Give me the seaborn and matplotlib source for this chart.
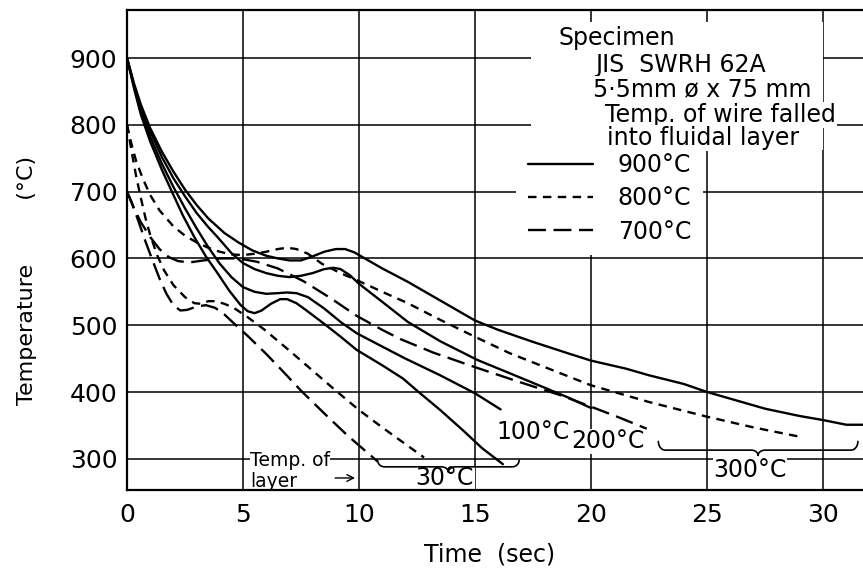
import numpy as np
import pandas as pd
import matplotlib
matplotlib.use("Agg")
import matplotlib.pyplot as plt
import seaborn as sns
from matplotlib.lines import Line2D
from matplotlib.patches import Rectangle

# ---------------- data ----------------
# Solid lines: wire dropped at 900 C ; layer temperature in name
t_s30 = [0, 0.3, 0.6, 1.0, 1.5, 2.0, 2.4, 2.9, 3.4, 3.9, 4.4, 4.9, 5.2, 5.5, 5.8, 6.2, 6.6, 6.9,
         7.3, 7.7, 8.5, 9.2, 9.9, 11.0, 11.9, 12.5, 13.5, 14.5, 15.3, 16.2]
T_s30 = [900, 855, 815, 775, 733, 695, 665, 632, 603, 578, 552, 530, 521, 518, 522, 532, 539, 539,
         533, 523, 502, 483, 463, 440, 420, 402, 373, 342, 316, 292]

t_s100 = [0, 0.3, 0.6, 1.0, 1.5, 2.0, 2.5, 3.0, 3.5, 4.0, 4.5, 5.0, 5.5, 6.0, 6.5, 6.9, 7.3, 7.8,
          8.5, 9.2, 9.9, 11.0, 12.0, 13.5, 15.0, 16.1]
T_s100 = [900, 858, 820, 782, 742, 707, 675, 645, 617, 592, 572, 557, 550, 547, 548, 549, 548, 542,
          525, 505, 488, 468, 450, 425, 398, 374]

t_s200 = [0, 0.3, 0.6, 1.0, 1.5, 2.0, 2.5, 3.0, 3.5, 3.9, 4.5, 5.0, 5.5, 6.0, 6.5, 7.0, 7.5, 8.0,
          8.5, 8.9, 9.2, 9.6, 10.0, 11.0, 12.1, 13.5, 15.1, 16.5, 18.1, 19.0, 20.0]
T_s200 = [900, 860, 825, 790, 752, 720, 693, 668, 647, 632, 608, 593, 584, 578, 574, 572, 574, 578,
          584, 586, 584, 575, 562, 535, 505, 476, 448, 428, 405, 392, 376]

t_s300 = [0, 0.3, 0.6, 1.0, 1.5, 2.0, 2.5, 3.0, 3.5, 4.2, 4.8, 5.4, 6.0, 6.5, 7.0, 7.5, 8.0, 8.5,
          9.0, 9.4, 9.8, 10.2, 11.0, 12.1, 13.5, 15.0, 16.0, 17.5, 19.0, 20.0, 21.5, 22.5, 24.0,
          25.0, 26.5, 27.5, 29.0, 30.0, 31.0, 31.7]
T_s300 = [900, 862, 830, 795, 760, 730, 703, 680, 660, 638, 624, 612, 604, 600, 597, 597, 603, 610,
          614, 614, 609, 601, 585, 565, 537, 507, 493, 475, 458, 447, 435, 425, 412,
          400, 385, 375, 364, 358, 351, 351]

# Short dashed lines: wire dropped at 800 C
t_d800_30 = [0, 0.2, 0.4, 0.6, 0.8, 1.0, 1.3, 1.6, 2.0, 2.5, 2.9, 3.2, 3.5, 3.8, 4.2, 4.6, 5.2,
             5.9, 7.0, 8.0, 9.0, 10.0, 11.0, 12.0, 12.8]
T_d800_30 = [800, 760, 722, 690, 660, 635, 605, 582, 560, 542, 533, 532, 536, 536, 532, 526, 512,
             494, 462, 432, 402, 373, 347, 322, 302]

t_d800_300 = [0, 0.2, 0.4, 0.7, 1.0, 1.4, 2.0, 2.5, 3.0, 3.5, 4.0, 4.5, 5.0, 5.5, 6.0, 6.5, 6.9,
              7.3, 7.8, 8.4, 9.2, 10.0, 11.0, 12.1, 13.5, 15.1, 16.5, 18.1, 20.0, 22.5, 25.0,
              27.0, 29.0]
T_d800_300 = [800, 770, 745, 718, 695, 672, 648, 634, 624, 616, 610, 606, 605, 607, 610, 614, 616,
              614, 607, 592, 578, 566, 550, 533, 508, 481, 458, 436, 410, 385, 363,
              347, 333]

# Long dashed lines: wire dropped at 700 C
t_d700_30 = [0, 0.2, 0.5, 0.8, 1.1, 1.4, 1.7, 2.0, 2.3, 2.6, 3.0, 3.4, 3.8, 4.2, 4.6, 5.2, 6.0,
             6.8, 7.5, 8.5, 9.5, 10.8]
T_d700_30 = [700, 684, 655, 625, 597, 570, 547, 530, 522, 523, 528, 530, 526, 516, 503, 484, 457,
             428, 402, 368, 335, 296]

t_d700_200 = [0, 0.3, 0.6, 1.0, 1.4, 1.8, 2.2, 2.7, 3.3, 4.0, 4.8, 5.6, 6.5, 7.6, 8.8, 9.9, 11.0,
              11.8, 13.2, 15.1, 17.0, 18.7, 20.0, 21.2, 22.4]
T_d700_200 = [700, 675, 654, 632, 614, 602, 596, 594, 597, 600, 600, 595, 585, 566, 540, 514, 493,
              479, 459, 436, 414, 395, 378, 362, 345]

start_labels = ["900°C", "800°C", "700°C"]
x_ticks = [0, 5, 10, 15, 20, 25, 30]
y_ticks = [300, 400, 500, 600, 700, 800, 900]
layer_labels = ["30°C", "100°C", "200°C", "300°C"]

curves = [
    ("s30", "900°C", t_s30, T_s30),
    ("s100", "900°C", t_s100, T_s100),
    ("s200", "900°C", t_s200, T_s200),
    ("s300", "900°C", t_s300, T_s300),
    ("d800_30", "800°C", t_d800_30, T_d800_30),
    ("d800_300", "800°C", t_d800_300, T_d800_300),
    ("d700_30", "700°C", t_d700_30, T_d700_30),
    ("d700_200", "700°C", t_d700_200, T_d700_200),
]
rows = []
for name, start, ts, Ts in curves:
    for t, T in zip(ts, Ts):
        rows.append((name, start, t, T))
df = pd.DataFrame(rows, columns=["curve", "start", "time", "temp"])

# ---------------- styling ----------------
sns.set_theme(style="white")
plt.rcParams["font.family"] = ["DejaVu Sans"]
plt.rcParams.update({"text.color": "black", "axes.labelcolor": "black",
                     "xtick.color": "black", "ytick.color": "black"})

short_dash = (3.6, 2.7)
long_dash = (7.6, 3.2)
dash_map = {"900°C": "", "800°C": short_dash, "700°C": long_dash}

fig = plt.figure(figsize=(8.63, 5.77), dpi=100)
ax = fig.add_axes([127 / 863, 1 - 490 / 577, 1 - 127 / 863, 480 / 577])

sns.lineplot(data=df, x="time", y="temp", units="curve", style="start",
             estimator=None, color="black", dashes=dash_map, linewidth=1.7,
             legend=False, ax=ax, sort=False, zorder=2,
             solid_joinstyle="round", dash_joinstyle="round")

ax.set_xlim(0, 31.72)
ax.set_ylim(253.3, 971.9)
ax.set_xticks(x_ticks)
ax.set_yticks(y_ticks)
ax.set_xticklabels([str(v) for v in x_ticks])
ax.set_yticklabels([str(v) for v in y_ticks])
ax.grid(True, color="black", linewidth=1.1)
ax.set_axisbelow(True)
ax.tick_params(axis="both", length=0, labelsize=18, colors="black")
ax.tick_params(axis="x", pad=9)
ax.tick_params(axis="y", pad=7)
for s in ["left", "bottom", "top"]:
    ax.spines[s].set_color("black")
    ax.spines[s].set_linewidth(1.6)
    ax.spines[s].set_zorder(4)
ax.spines["right"].set_visible(False)

ax.set_xlabel("Time  (sec)", fontsize=17, color="black")
ax.xaxis.set_label_coords(0.493, -0.110)
ax.set_ylabel("Temperature         (°C)", fontsize=16, color="black")
ax.yaxis.set_label_coords(-0.122, 0.4375)

# white area behind the specimen note
ax.add_patch(Rectangle((17.4, 762), 30.0 - 17.4, 954 - 762, facecolor="white",
                       edgecolor="none", zorder=1))

wb = dict(facecolor="white", edgecolor="none", pad=1)
wbs = dict(facecolor="white", edgecolor="none", pad=0.3)
note_fs = 17
ax.text(18.58, 930, "Specimen", fontsize=note_fs, va="center", ha="left", bbox=wb, zorder=6)
ax.text(20.17, 889.5, "JIS  SWRH 62A", fontsize=note_fs, va="center", ha="left", bbox=wb, zorder=6)
ax.text(20.09, 853.6, "5·5mm ø x 75 mm", fontsize=note_fs, va="center", ha="left", bbox=wb, zorder=6)
ax.text(20.6, 814.7, "Temp. of wire falled", fontsize=note_fs, va="center", ha="left", bbox=wb, zorder=6)
ax.text(20.7, 780.2, "into fluidal layer", fontsize=note_fs, va="center", ha="left", bbox=wb, zorder=6)

handles = [Line2D([], [], color="black", lw=1.7, linestyle="-"),
           Line2D([], [], color="black", lw=1.7, linestyle=(0, short_dash)),
           Line2D([], [], color="black", lw=1.7, linestyle=(0, long_dash))]
leg = ax.legend(handles, start_labels, loc="upper left",
                bbox_to_anchor=(516 / 863, 1 - 141 / 577), bbox_transform=fig.transFigure,
                frameon=True, facecolor="white", edgecolor="none", framealpha=1,
                fancybox=False, fontsize=17, handlelength=2.75, handletextpad=1.06,
                labelspacing=0.4, borderpad=0.5, borderaxespad=0)
leg.set_zorder(5)

# layer temperature labels
ax.text(17.5, 340, layer_labels[1], fontsize=17, ha="center", va="center", bbox=wbs, zorder=2.2)
ax.text(20.73, 326.6, layer_labels[2], fontsize=17, ha="center", va="center", bbox=wbs, zorder=2.2)
ax.text(26.85, 283, layer_labels[3], fontsize=17, ha="center", va="center", bbox=wbs, zorder=2.2)
ax.text(13.7, 271, layer_labels[0], fontsize=17, ha="center", va="center", bbox=wbs, zorder=2.2)


def brace(x0, x1, y, e, d, r):
    xm = (x0 + x1) / 2
    th = np.linspace(0, np.pi / 2, 12)
    xs, ys = [], []
    a = np.pi + th
    xs += list(x0 + r + r * np.cos(a)); ys += list(y + e + e * np.sin(a))
    a = np.pi / 2 - th
    xs += list(xm - r + r * np.cos(a)); ys += list(y - d + d * np.sin(a))
    a = np.pi - th
    xs += list(xm + r + r * np.cos(a)); ys += list(y - d + d * np.sin(a))
    a = 1.5 * np.pi + th
    xs += list(x1 - r + r * np.cos(a)); ys += list(y + e + e * np.sin(a))
    return xs, ys


bx, by = brace(10.8, 16.9, 288, 10, 8, 0.3)
ax.plot(bx, by, color="black", lw=1.2, zorder=3)
bx, by = brace(22.9, 31.5, 313, 13, 8, 0.3)
ax.plot(bx, by, color="black", lw=1.2, zorder=3)

ax.text(5.3, 281.7, "Temp. of\nlayer", fontsize=13.5, ha="left", va="center",
        linespacing=1.1, bbox=wbs, zorder=2.2)
ax.annotate("", xy=(9.95, 271.3), xytext=(8.85, 271.3),
            arrowprops=dict(arrowstyle="->", lw=1.0, color="black"), zorder=3)

fig.savefig("out.png", dpi=100)
